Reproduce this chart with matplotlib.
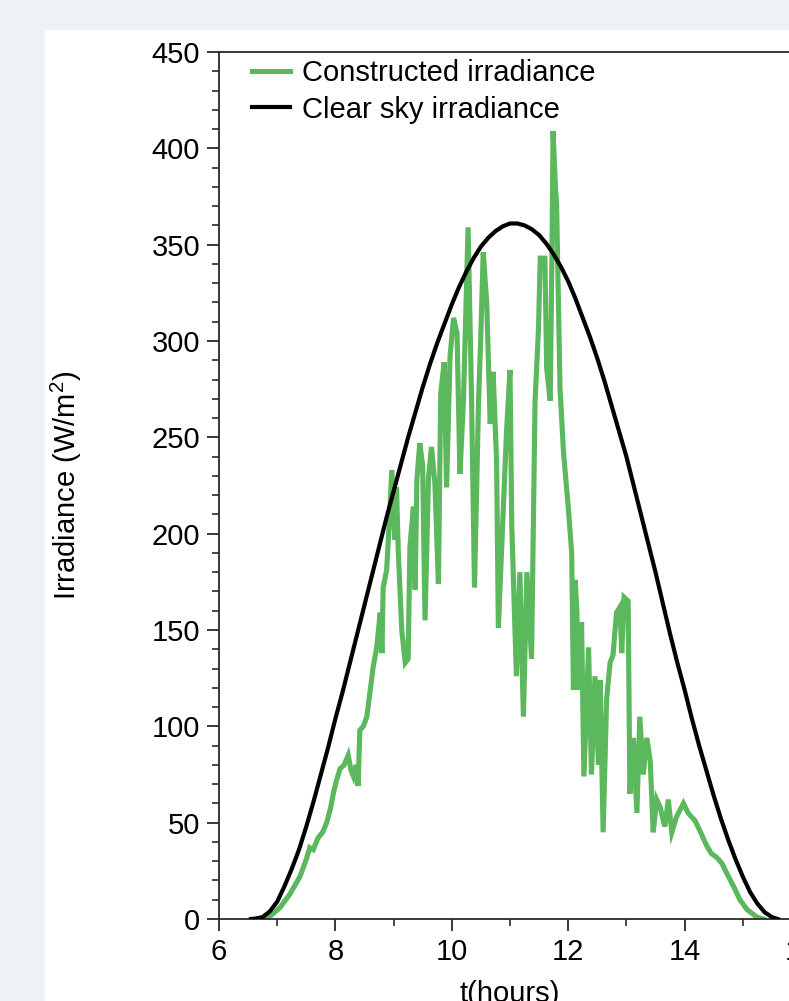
import matplotlib
matplotlib.use("Agg")
import matplotlib.pyplot as plt
from matplotlib.patches import Rectangle
from matplotlib.ticker import MultipleLocator

# ---------------- data ----------------
clear_t = [6.55, 6.625, 6.75, 6.875, 7.0, 7.125, 7.25, 7.375, 7.5, 7.625, 7.75, 7.875,
           8.0, 8.125, 8.25, 8.375, 8.5, 8.625, 8.75, 8.875, 9.0, 9.125, 9.25, 9.375,
           9.5, 9.625, 9.75, 9.875, 10.0, 10.125, 10.25, 10.375, 10.5, 10.625, 10.75,
           10.875, 11.0, 11.125, 11.25, 11.375, 11.5, 11.625, 11.75, 11.875, 12.0,
           12.125, 12.25, 12.375, 12.5, 12.625, 12.75, 12.875, 13.0, 13.125, 13.25,
           13.375, 13.5, 13.625, 13.75, 13.875, 14.0, 14.125, 14.25, 14.375, 14.5,
           14.625, 14.75, 14.875, 15.0, 15.125, 15.25, 15.375, 15.5, 15.6]
clear_v = [0, 0.2, 1, 4, 9, 17, 26, 36, 48, 61, 75, 89,
           104, 118, 133, 148, 163, 178, 193, 208, 222, 236, 250, 263,
           276, 288, 299, 309, 319, 328, 336, 343, 349, 353.5, 357,
           359.5, 361, 361, 360, 358, 355, 350.5, 345, 338.5, 331,
           322, 312, 302, 291, 279, 266, 253, 240, 225, 210,
           195, 180, 164, 148, 133, 119, 104, 90, 77, 64,
           52, 41, 31, 22, 14, 8, 3.5, 1, 0]

constructed_t = [6.74, 6.90, 7.05, 7.22, 7.39, 7.50, 7.56, 7.62, 7.70, 7.78,
                 7.85, 7.92, 7.97, 8.02, 8.08, 8.15, 8.22, 8.27, 8.31, 8.36,
                 8.39, 8.42, 8.48, 8.54, 8.59, 8.65, 8.71, 8.77, 8.80, 8.82,
                 8.88, 8.91, 8.97, 9.02, 9.05, 9.08, 9.14, 9.20, 9.25, 9.28,
                 9.34, 9.37, 9.40, 9.45, 9.50, 9.54, 9.60, 9.65, 9.71, 9.77,
                 9.81, 9.87, 9.91, 9.97, 10.03, 10.09, 10.14, 10.20, 10.28, 10.34,
                 10.39, 10.46, 10.50, 10.54, 10.60, 10.66, 10.71, 10.77, 10.80, 10.89,
                 10.94, 11.00, 11.03, 11.11, 11.17, 11.23, 11.29, 11.37, 11.40, 11.43,
                 11.49, 11.52, 11.60, 11.63, 11.69, 11.72, 11.74, 11.78, 11.80, 11.86,
                 11.92, 12.00, 12.06, 12.09, 12.12, 12.15, 12.17, 12.23, 12.27, 12.35,
                 12.40, 12.46, 12.52, 12.55, 12.60, 12.66, 12.72, 12.77, 12.83, 12.89,
                 12.92, 12.96, 13.03, 13.06, 13.12, 13.18, 13.23, 13.29, 13.35, 13.41,
                 13.46, 13.52, 13.58, 13.66, 13.72, 13.78, 13.86, 13.98, 14.06, 14.18,
                 14.26, 14.38, 14.46, 14.55, 14.64, 14.72, 14.84, 14.95, 15.07, 15.24,
                 15.35]
constructed_v = [0, 2, 6, 13, 22, 31, 37, 36, 42, 45,
                 50, 58, 66, 72, 78, 80, 85, 77, 74, 80,
                 69, 98, 100, 105, 117, 131, 141, 159, 138, 172,
                 181, 197, 233, 197, 224, 191, 150, 133, 135, 193,
                 214, 171, 228, 247, 235, 155, 229, 245, 226, 174,
                 273, 289, 224, 292, 312, 304, 231, 269, 359, 269,
                 172, 269, 304, 346, 320, 257, 284, 237, 151, 216,
                 253, 285, 205, 126, 180, 105, 180, 135, 200, 268,
                 307, 343, 343, 286, 269, 343, 409, 380, 372, 275,
                 242, 214, 190, 119, 176, 159, 119, 154, 74, 141,
                 75, 126, 80, 124, 45, 114, 133, 137, 159, 162,
                 138, 167, 165, 65, 94, 55, 105, 75, 94, 82,
                 45, 62, 58, 48, 62, 45, 53, 60, 55, 51,
                 46, 38, 34, 32, 29, 24, 17, 10, 5, 1,
                 0]

series_labels = ["Constructed irradiance", "Clear sky irradiance"]
x_ticks = [6, 8, 10, 12, 14, 16]
y_ticks = [0, 50, 100, 150, 200, 250, 300, 350, 400, 450]
x_label = "t(hours)"
y_label = "Irradiance (W/m$^2$)"

# ---------------- style ----------------
plt.rcParams["font.family"] = ["Liberation Sans", "DejaVu Sans"]
plt.rcParams["mathtext.fontset"] = "custom"
plt.rcParams["mathtext.rm"] = "Liberation Sans"
plt.rcParams["mathtext.it"] = "Liberation Sans:italic"
plt.rcParams["mathtext.bf"] = "Liberation Sans:bold"

GREEN = "#5cb85c"
FS = 21

W, H = 789, 1001
fig = plt.figure(figsize=(W / 100, H / 100), dpi=100)
fig.patch.set_facecolor("#eef2f6")
fig.patches.append(Rectangle((45 / W, 0), 1 - 45 / W, 1 - 30 / H,
                             transform=fig.transFigure, facecolor="white",
                             edgecolor="none", zorder=-10))

ax = fig.add_axes([219 / W, 1 - 919 / H, 582 / W, 867 / H])
ax.set_facecolor("none")

ax.plot(constructed_t, constructed_v, color=GREEN, lw=3.7,
        solid_joinstyle="miter", label=series_labels[0], zorder=2)
ax.plot(clear_t, clear_v, color="black", lw=3.0, label=series_labels[1], zorder=3)

ax.set_xlim(6, 16)
ax.set_ylim(0, 450)
ax.set_xticks(x_ticks)
ax.set_yticks(y_ticks)
ax.xaxis.set_minor_locator(MultipleLocator(1))
ax.yaxis.set_minor_locator(MultipleLocator(10))

for s in ax.spines.values():
    s.set_color("#2a2a2a")
    s.set_linewidth(1.3)

ax.tick_params(axis="both", which="major", direction="out", length=8.5,
               width=1.3, color="#2a2a2a", labelsize=FS, pad=5)
ax.tick_params(axis="both", which="minor", direction="out", length=4.8,
               width=1.2, color="#2a2a2a")
ax.tick_params(top=False, right=False, which="both")

ax.set_ylabel(y_label, fontsize=FS)
ax.yaxis.set_label_coords(-0.232, 0.5)
ax.set_xlabel(x_label, fontsize=FS)
ax.xaxis.set_label_coords(0.5, -0.070)

ax.legend(loc="upper left", bbox_to_anchor=(0.056, 0.9915), frameon=False,
          fontsize=FS, handlelength=1.3, handletextpad=0.42,
          labelspacing=0.28, borderpad=0, borderaxespad=0)

fig.savefig("out.png", dpi=100, facecolor=fig.get_facecolor())
